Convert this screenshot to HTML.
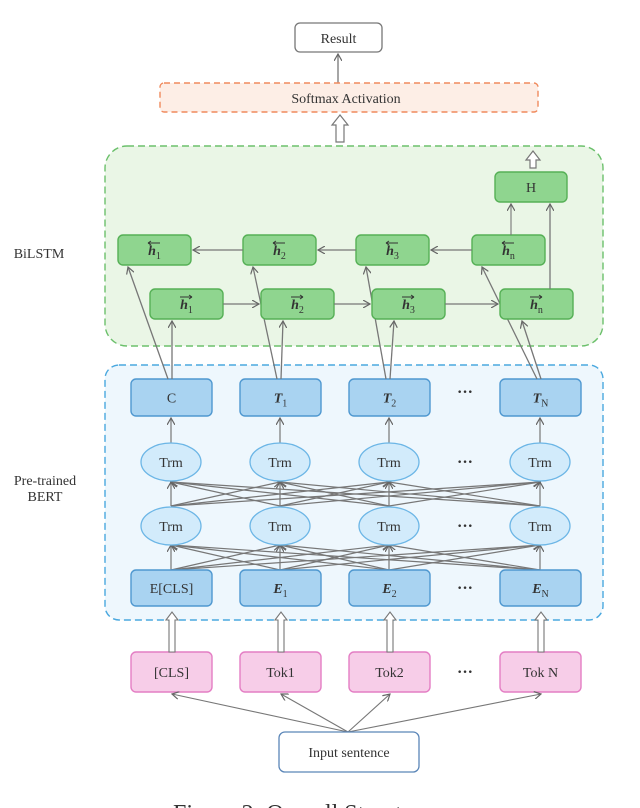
<!DOCTYPE html>
<html><head><meta charset="utf-8"><style>
html,body{margin:0;padding:0;background:#fff;overflow:hidden;}
svg{display:block;}
text{font-family:"Liberation Serif",serif;fill:#333;}
</style></head><body>
<svg id="s" width="640" height="808" viewBox="0 0 640 808" xmlns="http://www.w3.org/2000/svg">
<defs>
<marker id="a" markerWidth="8" markerHeight="8" refX="7" refY="4" orient="auto" markerUnits="userSpaceOnUse">
<path d="M0,0 L7,4 L0,8" fill="none" stroke="#666" stroke-width="1.2"/></marker>
</defs>
<rect x="295" y="23" width="87" height="29" rx="5" fill="#fff" stroke="#777" stroke-width="1.3"/>
<text x="338.5" y="43" font-size="14" text-anchor="middle">Result</text>
<line x1="338" y1="83" x2="338" y2="54" stroke="#777" stroke-width="1.3" marker-end="url(#a)"/>
<rect x="160" y="83" width="378" height="29" rx="4" fill="#fdeee6" stroke="#f08a5d" stroke-width="1.4" stroke-dasharray="6,4"/>
<text x="346" y="103" font-size="14" text-anchor="middle">Softmax Activation</text>
<path d="M336,142 V125 H332 L340,115 L348,125 H344 V142 Z" fill="#fff" stroke="#777" stroke-width="1.2"/>
<rect x="105" y="146" width="498" height="200" rx="22" fill="#eaf6e6" stroke="#6cc06c" stroke-width="1.4" stroke-dasharray="7,4"/>
<text x="39" y="258" font-size="14" text-anchor="middle">BiLSTM</text>
<path d="M530,168 V160 H526 L533,151 L540,160 H536 V168 Z" fill="#fff" stroke="#777" stroke-width="1.2"/>
<rect x="105" y="365" width="498" height="255" rx="14" fill="#eef7fd" stroke="#4aa8df" stroke-width="1.4" stroke-dasharray="7,4"/>
<text x="45" y="485" font-size="14" text-anchor="middle">Pre-trained</text>
<text x="45" y="501" font-size="14" text-anchor="middle">BERT</text>
<text x="173" y="821" font-size="24">Figure 2:   Overall Structure</text>
</svg>
<script>
var NS="http://www.w3.org/2000/svg",s=document.getElementById('s');
function el(t,a,txt,parent){var e=document.createElementNS(NS,t);for(var k in a)e.setAttribute(k,a[k]);if(txt!=null)e.textContent=txt;(parent||s).appendChild(e);return e;}
function line(x1,y1,x2,y2,arr,w){return el('line',{x1:x1,y1:y1,x2:x2,y2:y2,stroke:'#777','stroke-width':w||1.2,'marker-end':arr?'url(#a)':''});}
var cx=[171,280,389,540];
for(var i=0;i<4;i++)for(var j=0;j<4;j++){line(cx[i],570,cx[j],545,true);line(cx[i],506,cx[j],482,true);}
for(var i=0;i<4;i++){line(cx[i],443,cx[i],418,true);}
function box(x,y,w,h,fill,stroke,label,italic,sub){
 el('rect',{x:x,y:y,width:w,height:h,rx:5,fill:fill,stroke:stroke,'stroke-width':1.4});
 var t=el('text',{x:x+w/2,y:y+h/2+5,'font-size':14,'text-anchor':'middle'});
 var a=el('tspan',{},label,t); if(italic){a.setAttribute('font-style','italic');a.setAttribute('font-weight','bold');}
 if(sub){el('tspan',{'font-size':10,dy:4},sub,t);}
}
var ct=[["C",0,""],["T",1,"1"],["T",1,"2"],["T",1,"N"]];
var eb=[["E[CLS]",0,""],["E",1,"1"],["E",1,"2"],["E",1,"N"]];
var tk=["[CLS]","Tok1","Tok2","Tok N"];
for(var i=0;i<4;i++){
 var x=cx[i]-40;
 box(x,379,81,37,'#a9d3f1','#4f98d0',ct[i][0],ct[i][1],ct[i][2]);
 box(x,570,81,36,'#a9d3f1','#4f98d0',eb[i][0],eb[i][1],eb[i][2]);
 box(x,652,81,40,'#f7cde8','#e47ec4',tk[i],0,"");
 [462,526].forEach(function(cy){el('ellipse',{cx:cx[i],cy:cy,rx:30,ry:19,fill:'#d2ebfb',stroke:'#6cb6e6','stroke-width':1.3});
  el('text',{x:cx[i],y:cy+5,'font-size':14,'text-anchor':'middle'},'Trm');});
 var hx=cx[i]+1;
 el('path',{d:'M'+(hx-3)+',652 V620 H'+(hx-6)+' L'+hx+',612 L'+(hx+6)+',620 H'+(hx+3)+' V652 Z',fill:'#fff',stroke:'#777','stroke-width':1.1});
 line(348,732,cx[i]+1,694,true,1.1);
}
[392,462,526,588,672].forEach(function(y){el('text',{x:465,y:y+5,'font-size':16,'text-anchor':'middle','font-weight':'bold'},'···');});
el('rect',{x:279,y:732,width:140,height:40,rx:6,fill:'#fff',stroke:'#5b86b8','stroke-width':1.3});
el('text',{x:349,y:757,'font-size':14,'text-anchor':'middle'},'Input sentence');
var bx=[118,243,356,472],fx=[150,261,372,500],sub=["1","2","3","n"];
for(var i=0;i<4;i++){
 line(cx[i]-3,379,bx[i]+10,267,true,1.3);
 line(cx[i]+1,379,fx[i]+22,321,true,1.3);
}
for(var i=0;i<4;i++){
 box(bx[i],235,73,30,'#8fd58f','#56b056','h',1,sub[i]);
 box(fx[i],289,73,30,'#8fd58f','#56b056','h',1,sub[i]);
 var ax=bx[i]+36;
 el('path',{d:'M'+(ax-6)+',243 H'+(ax+6)+' M'+(ax-6)+',243 l3,-2 M'+(ax-6)+',243 l3,2',stroke:'#333','stroke-width':1,fill:'none'});
 var fx2=fx[i]+36;
 el('path',{d:'M'+(fx2-6)+',297 H'+(fx2+6)+' M'+(fx2+6)+',297 l-3,-2 M'+(fx2+6)+',297 l-3,2',stroke:'#333','stroke-width':1,fill:'none'});
}
for(var i=3;i>0;i--){line(bx[i],250,bx[i-1]+75,250,true,1.3);}
for(var i=0;i<3;i++){line(fx[i]+73,304,fx[i+1]-2,304,true,1.3);}
box(495,172,72,30,'#8fd58f','#56b056','H',0,"");
line(511,235,511,204,true,1.1);
line(550,289,550,204,true,1.3);
</script>
</body></html>
